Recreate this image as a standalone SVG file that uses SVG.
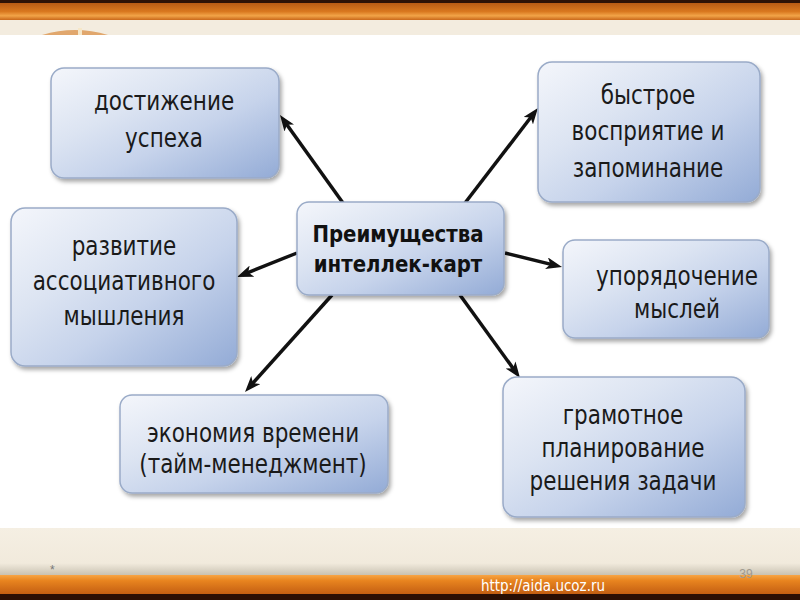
<svg xmlns="http://www.w3.org/2000/svg" width="800" height="600" viewBox="0 0 800 600">
  <defs>
    <linearGradient id="nodeFill" x1="0" y1="0" x2="1" y2="1">
      <stop offset="0" stop-color="#f4f6fb"/>
      <stop offset="0.35" stop-color="#dce4f2"/>
      <stop offset="0.6" stop-color="#c6d3eb"/>
      <stop offset="1" stop-color="#93abd6"/>
    </linearGradient>
    <linearGradient id="topBar" x1="0" y1="0" x2="0" y2="1">
      <stop offset="0" stop-color="#b85a14"/>
      <stop offset="0.5" stop-color="#d9781f"/>
      <stop offset="0.75" stop-color="#f2a448"/>
      <stop offset="1" stop-color="#c9681a"/>
    </linearGradient>
    <linearGradient id="botBar" x1="0" y1="0" x2="0" y2="1">
      <stop offset="0" stop-color="#f7a545"/>
      <stop offset="0.3" stop-color="#e8841f"/>
      <stop offset="1" stop-color="#c35e12"/>
    </linearGradient>
    <linearGradient id="parchBot" x1="0" y1="0" x2="0" y2="1">
      <stop offset="0" stop-color="#f5efe3"/>
      <stop offset="0.75" stop-color="#f1eadc"/>
      <stop offset="1" stop-color="#c9c2b2"/>
    </linearGradient>
    <filter id="shadow" x="-10%" y="-10%" width="125%" height="130%">
      <feDropShadow dx="2" dy="3" stdDeviation="2" flood-color="#000" flood-opacity="0.35"/>
    </filter>
    <marker id="arrow" markerUnits="userSpaceOnUse" viewBox="0 0 16 12" markerWidth="16" markerHeight="12" refX="10" refY="6" orient="auto">
      <path d="M0,0 L16,6 L0,12 L4,6 z" fill="#111"/>
    </marker>
    <style>
      .box { fill: url(#nodeFill); stroke: #9aabc8; stroke-width: 1.5; filter: url(#shadow); }
      .lbl { font-family: "DejaVu Sans Condensed", "DejaVu Sans", sans-serif; font-size: 26px; fill: #1a1a1a; text-anchor: middle; }
      .ctr { font-family: "DejaVu Sans Condensed", "DejaVu Sans", sans-serif; font-size: 23px; font-weight: bold; fill: #111; text-anchor: middle; }
      .conn line { stroke: #111; stroke-width: 3.5; marker-end: url(#arrow); }
    </style>
  </defs>

  <!-- background -->
  <rect x="0" y="0" width="800" height="600" fill="#ffffff"/>
  <rect x="0" y="0" width="800" height="35" fill="#f3ecdf"/>
  <rect x="0" y="0" width="800" height="3" fill="#2e1206"/>
  <rect x="0" y="3" width="800" height="17" fill="url(#topBar)"/>
  <path d="M42,35 Q75,25 108,35 z" fill="#d98a3c" opacity="0.7"/>
  <rect x="78" y="28" width="4" height="7" fill="#f6e7c8"/>
  <rect x="0" y="528" width="800" height="47" fill="url(#parchBot)"/>
  <rect x="0" y="575" width="800" height="19" fill="url(#botBar)"/>
  <rect x="0" y="594" width="800" height="6" fill="#2a0e04"/>
  <text x="50" y="574" font-family="Liberation Sans, sans-serif" font-size="12" fill="#777">*</text>
  <text x="746" y="578" font-family="Liberation Sans, sans-serif" font-size="12" fill="#a09a90" text-anchor="middle">39</text>
  <text x="543" y="591" font-family="DejaVu Sans Condensed, DejaVu Sans, sans-serif" font-size="15" fill="#ffffff" text-anchor="middle">http://aida.ucoz.ru</text>

  <!-- connectors -->
  <g id="connectors" class="conn">
    <line x1="343" y1="203" x2="283.5" y2="119.9"/>
    <line x1="465" y1="203" x2="534.3" y2="112.8"/>
    <line x1="297" y1="253" x2="242.6" y2="274.8"/>
    <line x1="505" y1="253" x2="556.2" y2="265.6"/>
    <line x1="332" y1="295" x2="249" y2="387.5"/>
    <line x1="460" y1="295" x2="516.5" y2="373.1"/>
  </g>

  <!-- nodes -->
  <g id="center">
    <rect class="box" x="297" y="202" width="207" height="93" rx="12"/>
    <g transform="translate(398 0) scale(0.955 1)">
      <text class="ctr" x="0" y="242">Преимущества</text>
      <text class="ctr" x="0" y="272">интеллек-карт</text>
    </g>
  </g>
  <g id="node-success">
    <rect class="box" x="51" y="68" width="228" height="110" rx="13"/>
    <g transform="translate(164 0) scale(0.92 1)">
      <text class="lbl" x="0" y="110">достижение</text>
      <text class="lbl" x="0" y="147">успеха</text>
    </g>
  </g>
  <g id="node-perception">
    <rect class="box" x="538" y="62" width="222" height="140" rx="14"/>
    <g transform="translate(648 0) scale(0.92 1)">
      <text class="lbl" x="0" y="104">быстрое</text>
      <text class="lbl" x="0" y="140">восприятие и</text>
      <text class="lbl" x="0" y="177">запоминание</text>
    </g>
  </g>
  <g id="node-association">
    <rect class="box" x="11" y="208" width="226" height="158" rx="14"/>
    <g transform="translate(124 0) scale(0.92 1)">
      <text class="lbl" x="0" y="255">развитие</text>
      <text class="lbl" x="0" y="290">ассоциативного</text>
      <text class="lbl" x="0" y="325">мышления</text>
    </g>
  </g>
  <g id="node-order">
    <rect class="box" x="563" y="240" width="206" height="98" rx="12"/>
    <g transform="translate(677 0) scale(0.92 1)">
      <text class="lbl" x="0" y="285">упорядочение</text>
      <text class="lbl" x="0" y="318">мыслей</text>
    </g>
  </g>
  <g id="node-time">
    <rect class="box" x="120" y="395" width="268" height="98" rx="12"/>
    <g transform="translate(253 0) scale(0.92 1)">
      <text class="lbl" x="0" y="442">экономия времени</text>
      <text class="lbl" x="0" y="473">(тайм-менеджмент)</text>
    </g>
  </g>
  <g id="node-planning">
    <rect class="box" x="503" y="377" width="242" height="140" rx="14"/>
    <g transform="translate(623 0) scale(0.92 1)">
      <text class="lbl" x="0" y="424">грамотное</text>
      <text class="lbl" x="0" y="457">планирование</text>
      <text class="lbl" x="0" y="490">решения задачи</text>
    </g>
  </g>
</svg>
